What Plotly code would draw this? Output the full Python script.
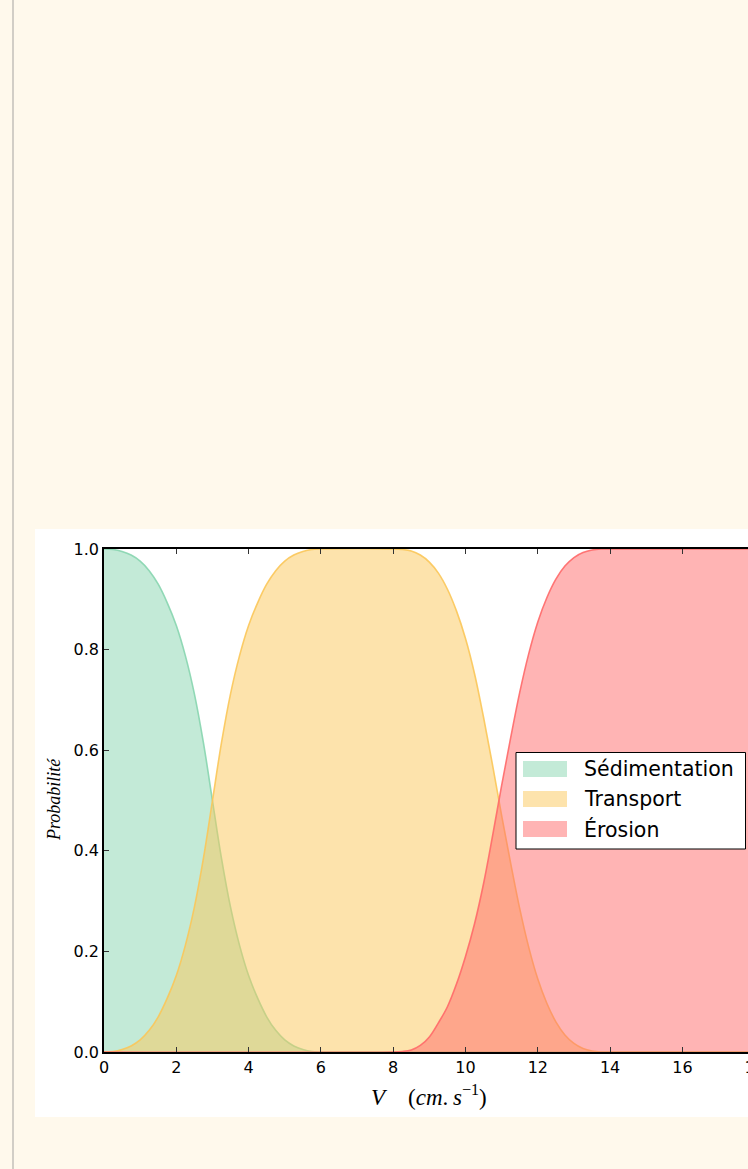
import plotly.graph_objects as go

# ---- data: probability of each regime vs. current velocity V (cm/s) ----
v_sed = [0.0, 0.25, 0.5, 0.75, 1.0, 1.25, 1.5, 1.75, 2.0, 2.25, 2.5, 2.75, 3.0,
         3.25, 3.5, 3.75, 4.0, 4.25, 4.5, 4.75, 5.0, 5.25, 5.5, 5.75, 6.0, 20.0]
p_sed = [1.000, 0.999, 0.995, 0.988, 0.976, 0.957, 0.930, 0.893, 0.848, 0.788,
         0.712, 0.615, 0.500, 0.385, 0.288, 0.212, 0.152, 0.107, 0.070, 0.043,
         0.024, 0.012, 0.005, 0.001, 0.000, 0.000]

v_tra = [0.0, 0.25, 0.5, 0.75, 1.0, 1.25, 1.5, 1.75, 2.0, 2.25, 2.5, 2.75, 3.0,
         3.25, 3.5, 3.75, 4.0, 4.25, 4.5, 4.75, 5.0, 5.25, 5.5, 5.75, 6.0,
         8.0, 8.25, 8.5, 8.75, 9.0, 9.25, 9.5, 9.75, 10.0, 10.25, 10.5, 10.75,
         11.0, 11.25, 11.5, 11.75, 12.0, 12.25, 12.5, 12.75, 13.0, 13.25, 13.5,
         13.75, 14.0, 20.0]
p_tra = [0.000, 0.001, 0.005, 0.012, 0.024, 0.043, 0.070, 0.107, 0.152, 0.212,
         0.288, 0.385, 0.500, 0.615, 0.712, 0.788, 0.848, 0.893, 0.930, 0.957,
         0.976, 0.988, 0.995, 0.999, 1.000,
         1.000, 0.999, 0.996, 0.988, 0.974, 0.952, 0.920, 0.877, 0.822, 0.752,
         0.665, 0.570, 0.470, 0.375, 0.285, 0.208, 0.145, 0.097, 0.060, 0.034,
         0.017, 0.007, 0.002, 0.000, 0.000, 0.000]

v_ero = [0.0, 8.0, 8.25, 8.5, 8.75, 9.0, 9.25, 9.5, 9.75, 10.0, 10.25, 10.5,
         10.75, 11.0, 11.25, 11.5, 11.75, 12.0, 12.25, 12.5, 12.75, 13.0, 13.25,
         13.5, 13.75, 14.0, 20.0]
p_ero = [0.000, 0.000, 0.001, 0.004, 0.013, 0.030, 0.058, 0.090, 0.135, 0.190,
         0.255, 0.335, 0.430, 0.530, 0.625, 0.715, 0.792, 0.855, 0.903, 0.940,
         0.966, 0.983, 0.993, 0.998, 1.000, 1.000, 1.000]

names = ["Sédimentation", "Transport", "Érosion"]
x_ticks = [0, 2, 4, 6, 8, 10, 12, 14, 16, 18, 20]
y_ticks = [0.0, 0.2, 0.4, 0.6, 0.8, 1.0]

# ---- styling ----
base_rgb = [(135, 213, 175), (251, 199, 89), (255, 105, 105)]
patch_hex = ["#c3ead7", "#fde3ac", "#ffb4b4"]
PAGE_BG = "#fff9ec"

W, H = 880, 1169
L, T, PW, PH = 104, 549, 723, 503


def px_x(px):
    return (px - L) / PW


def px_y(py):
    return (T + PH - py) / PH


fig = go.Figure()
for (xs, ys), name, rgb in zip([(v_sed, p_sed), (v_tra, p_tra), (v_ero, p_ero)],
                               names, base_rgb):
    r, g, b = rgb
    fig.add_trace(go.Scatter(
        x=xs, y=ys, name=name, mode="lines", line_shape="spline",
        line=dict(color=f"rgba({r},{g},{b},0.9)", width=1.6),
        fill="tozeroy", fillcolor=f"rgba({r},{g},{b},0.5)",
        showlegend=False, hoverinfo="skip",
    ))

shapes = [
    # page rule on the left
    dict(type="line", xref="paper", yref="paper",
         x0=px_x(13), x1=px_x(13), y0=px_y(0), y1=px_y(H),
         line=dict(color="#d2cec6", width=2), layer="below"),
    # white figure panel
    dict(type="rect", xref="paper", yref="paper",
         x0=px_x(35), x1=px_x(W + 5), y0=px_y(529), y1=px_y(1117),
         fillcolor="white", line=dict(width=0), layer="below"),
    # legend frame
    dict(type="rect", xref="paper", yref="paper",
         x0=px_x(516), x1=px_x(745.5), y0=px_y(752.5), y1=px_y(849),
         fillcolor="white", line=dict(color="black", width=1), layer="above"),
]

annotations = []
for i, (name, col) in enumerate(zip(names, patch_hex)):
    yc = 769 + 30 * i
    shapes.append(dict(type="rect", xref="paper", yref="paper",
                       x0=px_x(523), x1=px_x(567), y0=px_y(yc - 8), y1=px_y(yc + 8),
                       fillcolor=col, line=dict(width=0), layer="above"))
    annotations.append(dict(xref="paper", yref="paper", x=px_x(582), y=px_y(yc),
                            text=name, showarrow=False, xanchor="left", yanchor="middle",
                            font=dict(family="DejaVu Sans", size=20.5, color="black")))

annotations.append(dict(xref="paper", yref="paper", x=px_x(54), y=px_y(800),
                        text="<i>Probabilité</i>", textangle=-90, showarrow=False,
                        xanchor="center", yanchor="middle",
                        font=dict(family="Liberation Serif", size=18, color="black")))
annotations.append(dict(xref="paper", yref="paper", x=px_x(429), y=px_y(1095),
                        text="<i>V</i>\u2002\u2002(<i>cm</i>.\u2009<i>s</i><sup>\u22121</sup>)",
                        showarrow=False, xanchor="center", yanchor="middle",
                        font=dict(family="Liberation Serif", size=23, color="black")))

axis_common = dict(showgrid=False, zeroline=False, showline=True, linecolor="black",
                   linewidth=1.5, mirror="ticks", ticks="inside", ticklen=5,
                   tickwidth=1, tickcolor="#333333",
                   tickfont=dict(family="DejaVu Sans", size=16, color="black"))

fig.update_layout(
    width=W, height=H,
    margin=dict(l=L, r=W - L - PW, t=T, b=H - T - PH, pad=0),
    paper_bgcolor=PAGE_BG, plot_bgcolor="white",
    xaxis=dict(range=[0, 20], tickvals=x_ticks, ticktext=[str(t) for t in x_ticks],
               **axis_common),
    yaxis=dict(range=[0, 1], tickvals=y_ticks, ticktext=[f"{t:.1f}" for t in y_ticks],
               **axis_common),
    shapes=shapes, annotations=annotations, showlegend=False,
)

fig.write_html("out.html", config={"displayModeBar": False},
               post_script="document.body.style.margin='0';"
                           "document.body.style.overflow='hidden';")
